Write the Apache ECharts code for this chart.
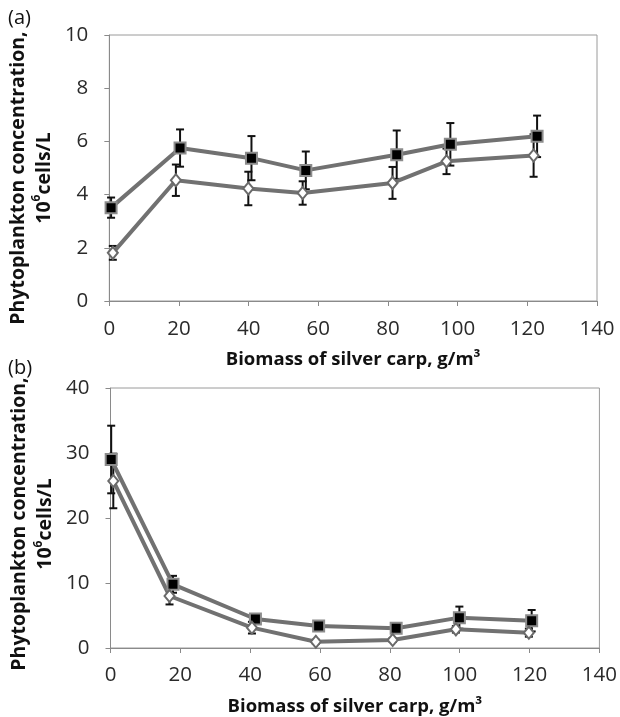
<!DOCTYPE html>
<html>
<head>
<meta charset="utf-8">
<script src="https://cdn.jsdelivr.net/npm/echarts@6/dist/echarts.min.js"></script>
<style>
html,body{margin:0;padding:0;background:#fff;}
#chart{width:620px;height:717px;}
</style>
</head>
<body>
<div id="chart"></div>
<script>
// ---- Data: panel (a) ----
const aX_sq = [0.5, 20.3, 40.8, 56.4, 82.5, 97.9, 122.8];
const aY_sq = [3.51, 5.75, 5.37, 4.91, 5.5, 5.89, 6.19];
const aErr_sq = [0.38, 0.7, 0.83, 0.71, 0.91, 0.8, 0.78];
const aX_di = [1.0, 19.1, 39.9, 55.5, 81.3, 96.8, 121.8];
const aY_di = [1.81, 4.54, 4.23, 4.06, 4.44, 5.25, 5.47];
const aErr_di = [0.26, 0.59, 0.63, 0.44, 0.6, 0.48, 0.8];
// ---- Data: panel (b) ----
const bX_sq = [0.2, 17.9, 41.5, 59.6, 81.8, 99.9, 120.6];
const bY_sq = [29.0, 9.8, 4.46, 3.38, 3.03, 4.67, 4.2];
const bErr_sq = [5.2, 1.3, 0.7, 0.4, 0.4, 1.7, 1.65];
const bX_di = [0.8, 16.9, 40.5, 58.8, 80.8, 98.9, 119.8];
const bY_di = [25.7, 8.0, 3.13, 0.97, 1.23, 2.87, 2.36];
const bErr_di = [4.2, 1.3, 0.9, 0.3, 0.3, 0.5, 0.62];
// ---- Axis ticks / labels ----
const xTicks = [0, 20, 40, 60, 80, 100, 120, 140];
const yTicksA = [0, 2, 4, 6, 8, 10];
const yTicksB = [0, 10, 20, 30, 40];
const xTitle = 'Biomass of silver carp, g/m³';
const panelLabels = ['(a)', '(b)'];

const pairs = (xs, ys) => xs.map((x, i) => [x, ys[i]]);
const errs = (xs, ys, es) => xs.map((x, i) => [x, ys[i] - es[i], ys[i] + es[i]]);

const FONT = 'Open Sans';
const LINE_COLOR = '#717171';

function errRender(params, api) {
  const x = api.value(0);
  const lo = api.coord([x, api.value(1)]);
  const hi = api.coord([x, api.value(2)]);
  const w = 4;
  const st = { stroke: '#111', lineWidth: 2 };
  return {
    type: 'group',
    children: [
      { type: 'line', shape: { x1: lo[0], y1: lo[1], x2: hi[0], y2: hi[1] }, style: st },
      { type: 'line', shape: { x1: lo[0] - w, y1: lo[1], x2: lo[0] + w, y2: lo[1] }, style: st },
      { type: 'line', shape: { x1: hi[0] - w, y1: hi[1], x2: hi[0] + w, y2: hi[1] }, style: st }
    ]
  };
}

function xAxisCfg(gridIndex, margin) {
  return {
    gridIndex, type: 'value', min: xTicks[0], max: xTicks[xTicks.length - 1], interval: 20,
    name: xTitle, nameLocation: 'middle', nameGap: 49,
    nameTextStyle: { fontFamily: FONT, fontWeight: 'bold', fontSize: 18.5, color: '#111' },
    axisLine: { show: true, onZero: false, lineStyle: { color: '#8a8a8a', width: 1 } },
    axisTick: { show: true, length: 5, inside: false, lineStyle: { color: '#8a8a8a' } },
    axisLabel: { fontFamily: FONT, fontSize: 20.5, color: '#2a2a2a', margin: margin },
    splitLine: { show: false }
  };
}
const yName = '{t|Phytoplankton concentration,}\n{t|10}{s|6}{t|cells/L}';
const yRich = {
  t: { fontFamily: FONT, fontWeight: 'bold', fontSize: 19.5, color: '#111', lineHeight: 26 },
  s: { fontFamily: FONT, fontWeight: 'bold', fontSize: 12, color: '#111', verticalAlign: 'top', lineHeight: 26, padding: [0, 0, 9, 0] }
};
function yAxisCfg(gridIndex, ticks, interval, shift) {
  return {
    gridIndex, type: 'value', min: ticks[0], max: ticks[ticks.length - 1], interval,
    name: yName, nameLocation: 'middle', nameGap: 52, nameRotate: 90,
    nameTextStyle: { rich: yRich, padding: [0, shift, 0, 0] },
    axisLine: { show: true, lineStyle: { color: '#8a8a8a', width: 1 } },
    axisTick: { show: true, length: 5, lineStyle: { color: '#8a8a8a' } },
    axisLabel: { fontFamily: FONT, fontSize: 20.5, color: '#2a2a2a', margin: 21 },
    splitLine: { show: false }
  };
}

function sqSeries(xi, data) {
  return {
    type: 'line', xAxisIndex: xi, yAxisIndex: xi, data, z: 3,
    symbol: 'rect', symbolSize: 11,
    lineStyle: { color: LINE_COLOR, width: 4 },
    itemStyle: { color: '#000', borderColor: '#8c8c8c', borderWidth: 2 },
    emphasis: { disabled: true }, animation: false
  };
}
function diSeries(xi, data) {
  return {
    type: 'line', xAxisIndex: xi, yAxisIndex: xi, data, z: 3,
    symbol: 'diamond', symbolSize: [10, 12],
    lineStyle: { color: LINE_COLOR, width: 4 },
    itemStyle: { color: '#fff', borderColor: '#6a6a6a', borderWidth: 2 },
    emphasis: { disabled: true }, animation: false
  };
}
function errSeries(xi, data) {
  return {
    type: 'custom', xAxisIndex: xi, yAxisIndex: xi, data, z: 2,
    renderItem: errRender, encode: { x: 0, y: [1, 2] }, animation: false, silent: true
  };
}

const chart = echarts.init(document.getElementById('chart'), null, { renderer: 'canvas' });
chart.setOption({
  backgroundColor: '#fff',
  animation: false,
  graphic: [
    { type: 'text', left: 8, top: 8, style: { text: panelLabels[0], fontFamily: FONT, fontSize: 20, fill: '#111' } },
    { type: 'text', left: 8, top: 358, style: { text: panelLabels[1], fontFamily: FONT, fontSize: 20, fill: '#111' } }
  ],
  grid: [
    { left: 109, right: 23, top: 35, height: 266, show: true, borderColor: '#9a9a9a', borderWidth: 1, backgroundColor: 'transparent' },
    { left: 110.5, right: 17.5, top: 388, height: 260, show: true, borderColor: '#9a9a9a', borderWidth: 1, backgroundColor: 'transparent' }
  ],
  xAxis: [xAxisCfg(0, 18), xAxisCfg(1, 17)],
  yAxis: [yAxisCfg(0, yTicksA, 2, 20), yAxisCfg(1, yTicksB, 10, 12)],
  series: [
    errSeries(0, errs(aX_sq, aY_sq, aErr_sq)),
    errSeries(0, errs(aX_di, aY_di, aErr_di)),
    sqSeries(0, pairs(aX_sq, aY_sq)),
    diSeries(0, pairs(aX_di, aY_di)),
    errSeries(1, errs(bX_sq, bY_sq, bErr_sq)),
    errSeries(1, errs(bX_di, bY_di, bErr_di)),
    sqSeries(1, pairs(bX_sq, bY_sq)),
    diSeries(1, pairs(bX_di, bY_di))
  ]
});
</script>
</body>
</html>
